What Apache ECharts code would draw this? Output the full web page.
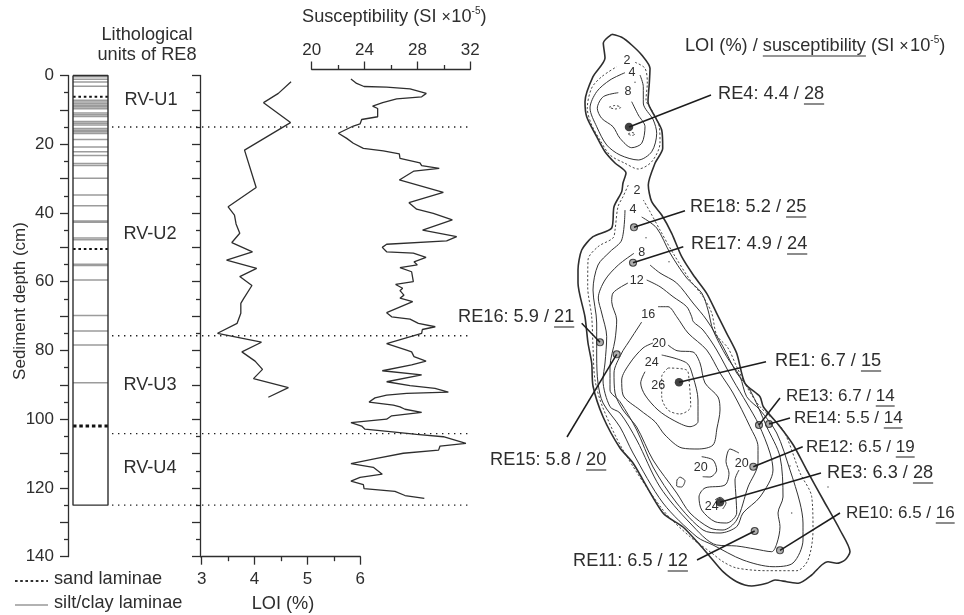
<!DOCTYPE html>
<html><head><meta charset="utf-8">
<style>html,body{margin:0;padding:0;background:#fff}#c{width:964px;height:615px}</style>
<script src="https://cdn.jsdelivr.net/npm/echarts@6/dist/echarts.min.js"></script>
</head><body><div id="c"></div>
<script>
// ---------- core data ----------
const loiProfile=[[4.69,1.8],[4.45,5.2],[4.17,7.9],[4.68,13.7],[3.81,21.7],[4.03,32.6],[3.5,38.2],[3.62,40.6],[3.65,43.2],[3.72,45.9],[3.57,48.6],[3.96,51.3],[3.47,53.7],[4.04,56.1],[3.72,58.5],[3.95,61.1],[3.79,65],[3.74,66.3],[3.74,69.2],[3.67,72.1],[3.3,75],[4.13,77.6],[3.76,80.4],[4.01,83.1],[4.15,85.5],[3.98,88.2],[4.64,90.8],[4.26,93.6]];
const susProfile=[[22.97,1],[23.4,2.3],[23.96,3.2],[25.67,3.4],[27.44,3.9],[28.67,5.2],[28.32,6.2],[26.43,6.8],[25.37,7.9],[24.61,8.9],[24.99,9.6],[24.99,12],[23.78,12.8],[23.66,14.1],[23.15,14.7],[22.02,16.8],[22.65,18.3],[23.15,19.7],[23.91,21.2],[25.42,21.9],[26.63,22.8],[26.68,24.1],[28.19,25.4],[28.32,26.2],[29.65,27],[27.74,27.8],[26.63,30.4],[29.96,34],[27.36,37],[27.94,38.9],[29.2,40.1],[30.64,42],[28.39,45],[30.97,46.9],[30.21,48.1],[25.67,49.1],[25.34,50],[25.67,51.3],[27.69,51.7],[28.65,52.9],[27.74,54.2],[27.99,55.1],[26.68,55.9],[27.56,57.1],[27.69,60],[26.35,60.8],[26.88,61.9],[26.68,62.6],[26.98,63.9],[26.68,64.8],[27.64,65.8],[25.67,69],[26.05,70.2],[27.44,70.9],[28.07,72.1],[29.35,73.1],[28.37,73.9],[28.32,75],[25.67,78],[27.18,79.9],[27.56,80.4],[27.74,81.8],[28.65,83.1],[27.56,84.2],[25.34,85.9],[28.32,87.1],[25.67,89.1],[27.44,90.2],[29.33,91],[30.34,92.1],[27.18,92.5],[25.67,93],[24.79,93.8],[24.34,95],[26.18,95.9],[26.68,96.4],[27.06,97.1],[28.32,98],[26.05,99],[25.67,100],[22.97,101],[23.78,102],[24.03,102.9],[25.92,103.6],[27.94,104.4],[29.96,105.1],[31.67,107],[29.71,107.8],[29.6,109],[26.93,109.9],[24.92,111.4],[22.97,112.9],[24.66,114],[25.34,116],[23.66,116.9],[22.97,118],[23.91,119],[23.96,120.2],[26.3,121],[27.06,122.2],[28.52,123]];
const siltLaminae=[0.4,1.1,1.9,3.1,7.2,7.7,8.2,8.7,9.2,9.7,10.9,11.4,11.9,13.4,13.9,14.4,15.4,15.9,16.4,16.9,18.6,20.8,22.2,23.3,25.6,26.2,29.9,34.8,37.9,42.3,42.7,47.3,47.8,54.9,55.3,59.5,69.8,74.3,78.4,89.4];
const sandLaminae=[6.2,50.5];
const thickSandLaminae=[102];
const unitBoundaries=[15,75.7,104.2,125];
const coreBase=125;
const depthTickLabels=[0,20,40,60,80,100,120,140];
const siteNames=["RE4","RE18","RE17","RE16","RE15","RE1","RE13","RE14","RE12","RE3","RE10","RE11"];
const siteLoi=["4.4","5.2","4.9","5.9","5.8","6.7","6.7","5.5","6.5","6.3","6.5","6.5"];
const siteSus=["28","25","24","21","20","15","14","14","19","28","16","12"];
const unitNames=["RV-U1","RV-U2","RV-U3","RV-U4"];
// ---------- map data ----------
const shoreline=[[611.7,34.3],[621.7,37.3],[631.7,45],[641.7,55],[650,68.3],[649.3,83.3],[648,101.7],[655,116.7],[661.7,130],[662.7,148.3],[655,163.3],[648.3,185],[651.7,201.7],[661.7,215],[671.7,233.3],[681.7,256.7],[693.3,275],[706.7,293.3],[716.7,313.3],[726.7,333.3],[736.7,353.3],[745,383.3],[760,396.7],[763.3,406.7],[780,426.7],[793.3,445],[806.7,470],[823.3,500],[840,530],[850,551.7],[845,560],[836.7,563.3],[828,561.7],[821.7,565],[811.7,575],[798.3,583.3],[786.7,581.7],[775,580],[766.7,583.3],[751.7,586],[736.7,581.7],[723,571.7],[710,556.7],[700,545],[683,527],[663,513],[633,463],[620,448],[603,416.7],[593,386],[591.7,363],[588,343],[585,317],[578,283],[578,270],[581.7,250],[593,236.7],[611.7,228],[614,206.7],[621.7,191.7],[623,183],[626,173],[615,163],[605,151.7],[596.7,136.7],[586.7,116.7],[585,101.7],[593,76.7],[605,58],[603.3,43],[611.7,34.3]];
const dashedNorth2=[[635,62.3],[645,68.3],[647.3,83.3],[646,100],[651.7,110],[659.3,126.7],[660,143],[651.7,161.7],[638.3,169],[625,163.3],[610,155],[600,140],[591.7,125],[587.3,108.3],[591.7,88],[601.7,76.7],[616.7,66.7]];
const dashedSouth2=[[628.3,185],[623,196.7],[618,206.7],[615,230],[613,238],[598,246.7],[588,260],[587.7,286.7],[591.7,316.7],[593,346.7],[595,380],[603,408],[623,450],[663,510],[690,536.7],[711.7,553],[723,561.7],[736.7,568],[766.7,570.7],[796.7,570.7],[808,560],[813,530],[811.7,496.7],[800,473],[783,430],[760,406.7],[746.7,386.7],[736.7,366.7],[728,348],[716.7,335],[711.7,313],[703,296.7],[690,280],[673,253],[660,230],[650,211.7],[643.3,200]];
const dashed26=[[668,368],[686.7,370],[689,380],[690.7,406.7],[680,414],[668,410],[661.7,396.7],[661.7,376.7],[668,368]];
const dashedPool=[[609,107.3],[615,105.5],[621,107.3],[615,109],[609,107.3]];
const dashedPool2=[[628,134],[632,132.5],[635,134],[632,135.5],[628,134]];
const contourNorth4=[[625,72.7],[610,80],[596.7,91.7],[590,108],[596.7,126.7],[606.7,145],[620,155],[638.3,160],[651.7,151.7],[656.7,133.3],[653.3,120],[643.3,103],[643.3,86.7],[640,75]];
const contourNorth8=[[618.3,92.7],[603.3,96.7],[597.3,108.3],[601.7,118.3],[613,126.7],[620,138.3],[631.7,147.7],[641.7,143.3],[645,126.7],[638.3,115],[631.7,101.7]];
const contourSouth4=[[625,210],[621.7,240],[610,251.7],[598,265],[593,290],[596.7,323],[596.7,357],[598,383],[603,403],[620,427],[633,453],[663,503],[697,537],[713,545],[743,560],[773,566.7],[793,563],[803,540],[803,523],[800,503],[790,470],[776.7,433],[760,410],[746.7,396.7],[740,376.7],[726.7,356.7],[713,330],[708,310],[701.7,293],[686.7,278],[670,253],[656.7,228],[641.7,217]];
const contourSouth8=[[634,253.3],[618.3,265],[605,280],[598.3,298],[601.7,313],[606.7,336.7],[605,363],[603,380],[610,406.7],[620,413],[636.7,440],[660,487],[690,523],[716.7,545],[736.7,546],[755,549],[771.7,551.7],[777,543],[780,526.7],[778,513],[783,497],[780,456.7],[766.7,426.7],[750,390],[736.7,373],[723,346.7],[706.7,320],[693,303],[676.7,283],[660,273],[650,265]];
const contour12=[[628,283],[613,293],[611.7,301.7],[616.7,320],[615,340],[610,366.7],[610,390],[620,401.7],[636.7,430],[653,467],[676.7,503],[703,530],[720,533],[736.7,526.7],[743,513],[760,497],[773,470],[770,453],[759,425],[746.7,403],[733,380],[716.7,350],[703,330],[693.3,321.7],[691.7,316.7],[686.7,306.7],[673,296.7],[660,286.7],[646.7,280]];
const contour16=[[641.7,322],[628,343],[621.7,353],[614,373],[615,393],[623,410],[636.7,427],[653,460],[676.7,493],[690,513],[710,528],[723,530],[736.7,520],[748,487],[758,463],[758,446.7],[750,426.7],[733,393],[720,373],[706.7,350],[688,333],[676.7,316.7],[668,306.7],[658,306.7]];
const contour20=[[668,345],[677,350.7],[693,352],[700,363],[705,383],[718,397],[720,410],[717,428],[713,445],[698,449],[682,448],[665,435],[655,421.7],[640,410],[623,395],[621.7,380],[630,363],[643,348],[653,343]];
const contour24=[[645,371.7],[640.7,383],[645,395],[658,410],[673,420],[690,426.7],[698,421.7],[698,400],[693,376.7],[686.7,363],[661.7,355]];
const contour20South=[[739,453],[730,449],[726,461.7],[729,473],[725,485],[705,488],[699,497],[701.7,510],[715,521.7],[726.7,523],[736.7,513],[736,497],[735,480],[739,470]];
const contour20Small=[[701.7,456.7],[713,460],[716.7,470],[710,477],[702.7,476.7]];
const contourLoop=[[680,477],[685,480.7],[681.7,487],[676.7,486],[677,480],[680,477]];
const contour24Small=[[715,500],[720,497.3],[726,503],[722.7,509]];
const solidContours=[contourNorth4,contourNorth8,contourSouth4,contourSouth8,contour12,contour16,contour20,contour24,contour20South,contour20Small,contourLoop,contour24Small];
const dashedContours=[dashedNorth2,dashedSouth2,dashed26,dashedPool,dashedPool2];
const specks=[[635,82.3],[828,487],[791.7,513],[790,466],[646,237.7],[669,261.7]];
const blackSites=[[629,127],[679,382.3],[720,502.3]];
const greySites=[[634,227.3],[633,262.7],[600,342.3],[616.7,354.3],[759,425],[769,424],[753.3,466.7],[754.7,531],[780,550.3]];
const leaders=[[[629,127],[711,95]],[[634,227.3],[685,210.7]],[[633,262.7],[683.3,246.7]],[[600,342.3],[581.7,323.3]],[[616.7,354.3],[567,437]],[[679,382.3],[766,361.7]],[[759,425],[780,398]],[[769,424],[790,418]],[[753.3,466.7],[802.7,446.7]],[[720,502.3],[821,473]],[[754.7,531],[697,560]],[[780,550.3],[840,513]]];
const contourLabels=["2","4","8","2","4","8","12","16","20","24","26","20","20","24"];

// ---------- layout and styles ----------
const siteLabelPlace=[[718,94,18.2],[690,207,18.2],[691,244,18.2],[458,317,18.2],[490,460,18.2],[775,361,18.2],[786,396,17],[794,418,17],[806,447,17],[827,473,18.2],[846,513,17],[573,561,18.2]];
const contourLabelPlace=[[627,61],[632,73],[628,92],[637,191],[633,210],[641.7,252.7],[636.7,280.7],[648.3,315],[659,344],[651.7,362.7],[658.3,385.7],[700.7,467.3],[741.7,463.3],[711.7,506.7]];
const unitLabelPlace=[[151,100],[150,234],[150,385],[150,468]];
const INK='#2e2e2e', FONT='"Liberation Sans",Arial,sans-serif', FS=18.2, TICK=17;
const DY={top:75.5,h:481.2};
const axisStyle={color:INK,width:1.3};
const ctx=document.createElement('canvas').getContext('2d');
function tw(s,size){ctx.font=size+'px "Liberation Sans"';return ctx.measureText(s).width}
function T(text,x,y,o={}){return Object.assign({type:'text',x,y,silent:true,style:{text,fill:o.fill||INK,font:(o.size||FS)+'px '+FONT,align:o.align||'left',verticalAlign:o.va||'middle'}},o.extra||{})}
function L(x1,y1,x2,y2,o={}){return {type:'line',silent:true,shape:{x1,y1,x2,y2},style:{stroke:o.c||INK,lineWidth:o.w||1.1,lineDash:o.dash||null}}}
const pairs=(list,x0,x1)=>list.flatMap(d=>[[x0,d],[x1,d],[NaN,NaN]]);

const CORE_L=73,CORE_R=108,BOUND_L=112,BOUND_R=470;
const g=[];
g.push(T('Lithological',147,35,{align:'center'}),T('units of RE8',147,55,{align:'center'}));
unitNames.forEach((u,i)=>g.push(T(u,unitLabelPlace[i][0],unitLabelPlace[i][1],{align:'center'})));
g.push(T('Sediment depth (cm)',20,301,{align:'center',size:17,extra:{rotation:Math.PI/2}}));
g.push(L(15,581,48,581,{w:2.2,dash:[2.6,2.6]}),T('sand laminae',54,579));
g.push(L(15,605,48,605,{c:'#999',w:1.5}),T('silt/clay laminae',54,603));
g.push(T('LOI (%)',283,604,{align:'center'}));
let sx=302;const st='Susceptibility (SI ';
g.push(T(st,sx,17,{}));sx+=tw(st,FS);
g.push(T('\u00d7',sx,18,{size:16}));sx+=tw('\u00d7',16)+0.5;
g.push(T('10',sx,17,{}));sx+=tw('10',FS);
g.push(T('-5',sx,11,{size:10}));sx+=tw('-5',10);
g.push(T(')',sx,17,{}));
let mx=685;const a='LOI (%) / ',b='susceptibility',c=' (SI ';
g.push(T(a,mx,46,{}));mx+=tw(a,FS);
g.push(T(b,mx,46,{}));g.push(L(mx,56,mx+tw(b,FS),56));mx+=tw(b,FS);
g.push(T(c,mx,46,{}));mx+=tw(c,FS);
g.push(T('\u00d7',mx,47,{size:16}));mx+=tw('\u00d7',16)+1.5;
g.push(T('10',mx,46,{}));mx+=tw('10',FS);
g.push(T('-5',mx,40,{size:10}));mx+=tw('-5',10);
g.push(T(')',mx,46,{}));
siteNames.forEach((n,i)=>{const [x,y,sz]=siteLabelPlace[i],pre=n+': '+siteLoi[i]+' / ',w=tw(pre,sz),w2=tw(siteSus[i],sz);
  g.push(T(pre+siteSus[i],x,y,{size:sz}));g.push(L(x+w,y+10,x+w+w2,y+10));});
contourLabels.forEach((s,i)=>g.push(T(s,contourLabelPlace[i][0],contourLabelPlace[i][1],{size:12.5,align:'center'})));
g.push(L(200,556.7,202,556.7,{w:1.3}));

const lineS=(data,extra)=>Object.assign({type:'line',data,showSymbol:false,symbol:'none',silent:true,clip:false,animation:false,connectNulls:false,lineStyle:{color:INK,width:1.3}},extra);
const over={xAxisIndex:3,yAxisIndex:3};
const series=[];
series.push(lineS(pairs(siltLaminae,CORE_L,CORE_R),{xAxisIndex:0,yAxisIndex:0,lineStyle:{color:'#9c9c9c',width:1.5}}));
series.push(lineS(pairs(sandLaminae,CORE_L,CORE_R),{xAxisIndex:0,yAxisIndex:0,lineStyle:{color:'#111',width:2,type:[2.6,2.8]}}));
series.push(lineS(pairs(thickSandLaminae,CORE_L,CORE_R),{xAxisIndex:0,yAxisIndex:0,lineStyle:{color:'#111',width:3,type:[3.5,2.8]}}));
series.push(lineS([[CORE_L,0],[CORE_R,0],[CORE_R,coreBase],[CORE_L,coreBase],[CORE_L,0]],{xAxisIndex:0,yAxisIndex:0,lineStyle:{color:INK,width:1.4}}));
series.push(lineS(pairs(unitBoundaries,BOUND_L,BOUND_R),{xAxisIndex:0,yAxisIndex:0,lineStyle:{color:'#222',width:1.4,type:[1.4,4.6]}}));
series.push(lineS(loiProfile,{xAxisIndex:1,yAxisIndex:1}));
series.push(lineS(susProfile,{xAxisIndex:2,yAxisIndex:2}));
series.push(lineS(shoreline,Object.assign({smooth:0.25,lineStyle:{color:INK,width:1.6}},over)));
solidContours.forEach(cn=>series.push(lineS(cn,Object.assign({smooth:0.3,lineStyle:{color:'#333',width:1}},over))));
dashedContours.forEach(cn=>series.push(lineS(cn,Object.assign({smooth:0.3,lineStyle:{color:'#333',width:0.9,type:[2.2,2]}},over))));
leaders.forEach(l=>series.push(lineS(l,Object.assign({lineStyle:{color:'#1c1c1c',width:1.5}},over))));
series.push(Object.assign({type:'scatter',data:greySites,symbolSize:7,silent:true,animation:false,itemStyle:{color:'#999',borderColor:'#222',borderWidth:1.1}},over));
series.push(Object.assign({type:'scatter',data:blackSites,symbolSize:8.5,silent:true,animation:false,itemStyle:{color:'#111'}},over));
series.push(Object.assign({type:'scatter',data:specks,symbolSize:1.5,silent:true,animation:false,itemStyle:{color:'#333'}},over));

const yTicks=(lab)=>({type:'value',inverse:true,min:0,max:140,interval:10,
  axisLine:{show:true,onZero:false,lineStyle:axisStyle},axisTick:{show:true,length:8,lineStyle:axisStyle},
  minorTick:{show:true,splitNumber:2,length:4,lineStyle:axisStyle},splitLine:{show:false},minorSplitLine:{show:false},
  axisLabel:{show:lab,margin:14,color:INK,fontSize:TICK,fontFamily:FONT,formatter:v=>depthTickLabels.includes(v)?String(v):''}});
const xAx=(pos,min,max,iv,m,offset)=>({type:'value',position:pos,min,max,interval:iv,offset,
  axisLine:{show:true,onZero:false,lineStyle:axisStyle},axisTick:{show:true,length:8,lineStyle:axisStyle},
  minorTick:{show:true,splitNumber:2,length:4.5,lineStyle:axisStyle},splitLine:{show:false},minorSplitLine:{show:false},
  axisLabel:{margin:m,color:INK,fontSize:TICK,fontFamily:FONT}});
const hidden=(o)=>Object.assign({type:'value',show:false,splitLine:{show:false}},o);

const chart=echarts.init(document.getElementById('c'),null,{renderer:'canvas'});
chart.setOption({
  animation:false,backgroundColor:'#fff',
  grid:[
    {left:68,width:402,top:DY.top,height:DY.h},
    {left:201.7,width:158.6,top:DY.top,height:DY.h},
    {left:311.7,width:158.6,top:DY.top,height:DY.h},
    {left:0,width:964,top:0,height:615}
  ],
  xAxis:[
    hidden({gridIndex:0,min:68,max:470}),
    Object.assign(xAx('bottom',3,6,1,14,0),{gridIndex:1}),
    Object.assign(xAx('top',20,32,4,11,6),{gridIndex:2}),
    hidden({gridIndex:3,min:0,max:964})
  ],
  yAxis:[
    Object.assign(yTicks(true),{gridIndex:0}),
    Object.assign(yTicks(false),{gridIndex:1,offset:1.7}),
    hidden({gridIndex:2,min:0,max:140,inverse:true}),
    hidden({gridIndex:3,min:0,max:615,inverse:true})
  ],
  series,
  graphic:{elements:g}
});
</script></body></html>
